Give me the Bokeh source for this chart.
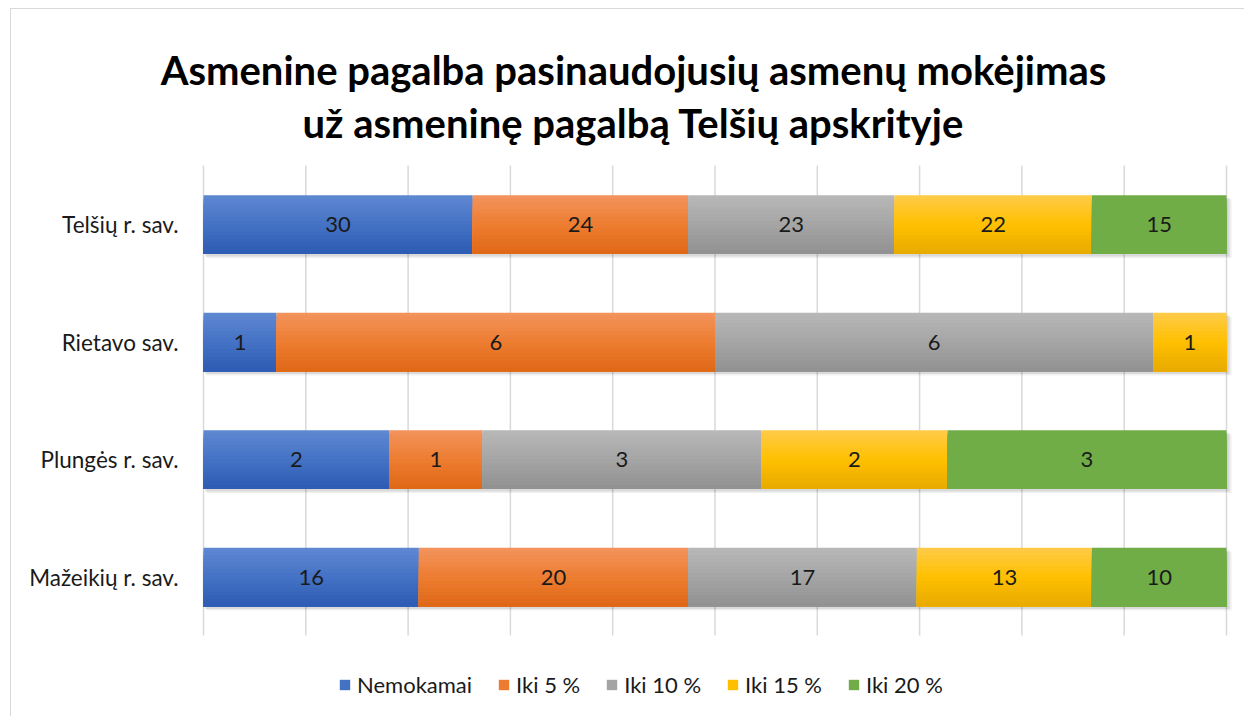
from bokeh.plotting import figure
from bokeh.models import ColumnDataSource, Legend, LegendItem, Range1d
from bokeh.core.properties import value
from bokeh.embed import file_html
from bokeh.resources import INLINE

# ---------------- data ----------------
categories = ["Telšių r. sav.", "Rietavo sav.", "Plungės r. sav.", "Mažeikių r. sav."]
series = ["Nemokamai", "Iki 5 %", "Iki 10 %", "Iki 15 %", "Iki 20 %"]
nemokamai = [30, 1, 2, 16]
iki_5 = [24, 6, 1, 20]
iki_10 = [23, 6, 3, 17]
iki_15 = [22, 1, 2, 13]
iki_20 = [15, 0, 3, 10]
grid_ticks = [0, 10, 20, 30, 40, 50, 60, 70, 80, 90, 100]
title_lines = ["Asmenine pagalba pasinaudojusių asmenų mokėjimas",
               "už asmeninę pagalbą Telšių apskrityje"]

values = [nemokamai, iki_5, iki_10, iki_15, iki_20]

# gradient stops (top, middle, bottom) per series
gradients = [
    ("#5e87d2", "#4472c4", "#2f5cb4"),
    ("#f3925a", "#ed7d31", "#e06918"),
    ("#b7b7b7", "#a5a5a5", "#929292"),
    ("#ffca45", "#ffc000", "#e9ab00"),
    ("#70ad47", "#70ad47", "#70ad47"),
]
FONT = "Lato"

# ---------------- layout geometry (pixels) ----------------
W, H_PX = 1234, 708            # canvas size
CANVAS_X, CANVAS_Y = 11, 9     # canvas origin on the page
BAR0_X, BAR100_X = 203, 1226   # page x of 0 % and 100 %
ROW0_Y, ROW_STEP = 576.5, 117.5  # page y of the bottom row centre, row spacing

ux = (BAR100_X - BAR0_X) / 100.0
x_start = -(BAR0_X - CANVAS_X) / ux
x_end = (CANVAS_X + W - BAR0_X) / ux
y_end = (ROW0_Y - CANVAS_Y) / ROW_STEP
y_start = (ROW0_Y - (CANVAS_Y + H_PX)) / ROW_STEP


def px_x(px):
    return (px - BAR0_X) / ux


def px_y(py):
    return (ROW0_Y - py) / ROW_STEP


def hex2rgb(h):
    h = h.lstrip("#")
    return tuple(int(h[i:i + 2], 16) for i in (0, 2, 4))


def mix(a, b, t):
    ra, rb = hex2rgb(a), hex2rgb(b)
    return "#%02x%02x%02x" % tuple(round(ra[i] + (rb[i] - ra[i]) * t) for i in range(3))


def grad(stops, t):
    top, mid, bot = stops
    return mix(top, mid, t * 2) if t <= 0.5 else mix(mid, bot, (t - 0.5) * 2)


n = len(categories)
ypos = [n - 1 - i for i in range(n)]  # first category on top
totals = [sum(v[i] for v in values) for i in range(n)]
lefts, rights = [], []
acc = [0.0] * n
for v in values:
    l = list(acc)
    r = [acc[i] + 100.0 * v[i] / totals[i] for i in range(n)]
    lefts.append(l)
    rights.append(r)
    acc = r

p = figure(
    width=W, height=H_PX,
    x_range=Range1d(x_start, x_end), y_range=Range1d(y_start, y_end),
    output_backend="svg", toolbar_location=None,
    min_border=0, min_border_left=0, min_border_right=0, min_border_top=0, min_border_bottom=0,
)
p.styles = {"border-top": "1px solid #d9d9d9", "border-left": "1px solid #d9d9d9",
            "margin-left": "10px", "margin-top": "8px"}
p.outline_line_color = None
p.xaxis.visible = False
p.yaxis.visible = False
p.xgrid.visible = False
p.ygrid.visible = False

# vertical gridlines
p.segment(x0=grid_ticks, x1=grid_ticks, y0=px_y(165), y1=px_y(635),
          line_color="#d9d9d9", line_width=1.5)

BH = 0.5
# soft shadow under the bars
p.hbar(y=[yy - 4.0 / ROW_STEP for yy in ypos], left=0.3, right=100.5, height=BH,
       fill_color="black", fill_alpha=0.06, line_color=None)
p.hbar(y=[yy - 2.5 / ROW_STEP for yy in ypos], left=0.15, right=100.3, height=BH,
       fill_color="black", fill_alpha=0.09, line_color=None)

N = 16
legend_items = []
for s_idx, name in enumerate(series):
    mid_r = None
    for k in range(N):
        top = BH / 2 - k * BH / N
        bot = -BH / 2
        col = grad(gradients[s_idx], k / (N - 1))
        ys = [yy + (top + bot) / 2 for yy in ypos]
        s2 = ColumnDataSource(dict(y=ys, left=lefts[s_idx], right=rights[s_idx]))
        r = p.hbar(y="y", left="left", right="right", height=top - bot,
                   source=s2, fill_color=col, line_color=None)
        if k == N // 2:
            mid_r = r
    legend_items.append(LegendItem(label=name, renderers=[mid_r]))

# data labels
lab_y, lab_x, lab_t = [], [], []
for s_idx in range(len(series)):
    for i in range(n):
        if values[s_idx][i] > 0:
            lab_y.append(ypos[i])
            lab_x.append((lefts[s_idx][i] + rights[s_idx][i]) / 2)
            lab_t.append(str(values[s_idx][i]))
p.text(x="x", y="y", text="t", source=ColumnDataSource(dict(x=lab_x, y=lab_y, t=lab_t)),
       text_align="center", text_baseline="middle", text_font=value(FONT),
       text_font_size="22px", text_color="#1a1a1a")

# category labels
p.text(x=[px_x(178)] * n, y=ypos, text=categories,
       text_align="right", text_baseline="middle", text_font=value(FONT),
       text_font_size="22.5px", text_color="#1a1a1a")

# title lines
p.text(x=[px_x(633)] * 2, y=[px_y(69), px_y(122)], text=title_lines,
       text_align="center", text_baseline="alphabetic", text_font=value(FONT),
       text_font_size="40px", text_font_style="bold", text_color="black")

legend = Legend(items=legend_items, orientation="horizontal",
                location=(338 - CANVAS_X, CANVAS_Y + H_PX - 698),
                glyph_width=13, glyph_height=13, label_standoff=6, spacing=25,
                padding=0, margin=0, border_line_color=None, background_fill_alpha=0,
                label_text_font=FONT, label_text_font_size="22px", label_text_color="#1a1a1a")
p.add_layout(legend, "center")

open("out.html", "w").write(file_html(p, INLINE))
